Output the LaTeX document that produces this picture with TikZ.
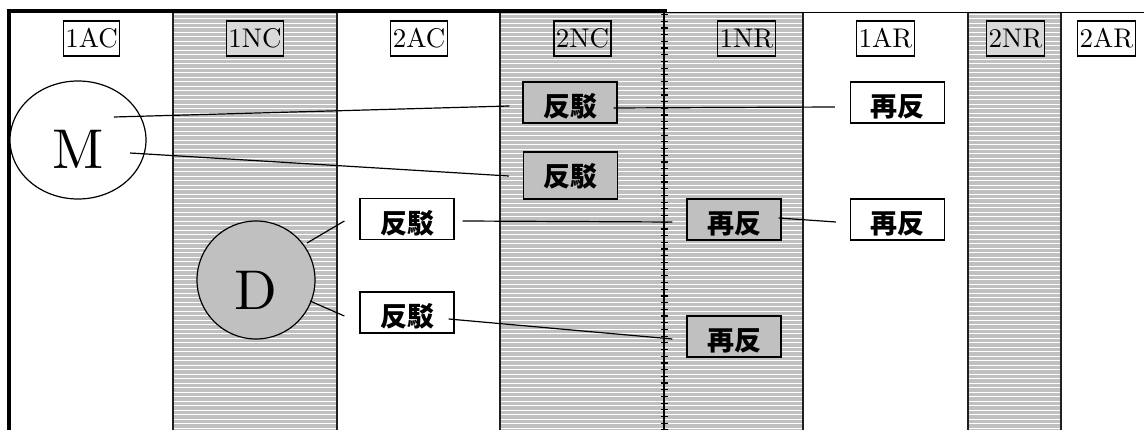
\documentclass[tikz,border=0pt]{standalone}
\usepackage{fontspec}
\newfontfamily\cjk{Noto Sans CJK JP}
\newfontfamily\lmten{lmroman10-regular}[Extension=.otf]
\newcommand{\headfont}{\lmten\fontsize{27}{30}\selectfont}
\usetikzlibrary{shapes.geometric,calc}
\definecolor{stripe}{HTML}{C0C0C0}
\definecolor{lab}{HTML}{D9D9D9}
\definecolor{edgec}{HTML}{202020}
\begin{document}
\begin{tikzpicture}[x=1pt,y=-1pt,
  colhead/.style={draw, line width=1.3pt, inner xsep=2pt, inner ysep=0pt, minimum height=35pt},
  rebox/.style={draw, line width=1.3pt, minimum width=94pt, minimum height=41pt, inner sep=0pt, text height=35pt, text depth=6pt, font={\cjk\bfseries\fontsize{27}{30}\selectfont}},
  graybox/.style={rebox, fill=stripe},
  whitebox/.style={rebox, fill=white},
  edge/.style={draw=edgec, line width=2pt},
  conn/.style={line width=1.2pt},
  bigletter/.style={font={\lmten\fontsize{56}{60}\selectfont}, inner sep=0pt}]
\useasboundingbox (0,0) rectangle (1144,430);
\fill[white] (0,0) rectangle (1144,430);
% shaded columns
\fill[stripe] (173,12) rectangle (337,430) (500,12) rectangle (803,430) (968,12) rectangle (1061,430);
\begin{scope}
  \clip (173,12) rectangle (337,430) (500,12) rectangle (803,430) (968,12) rectangle (1061,430);
  \foreach \yy in {14,18.5,...,430} \draw[white, line width=0.9pt] (173,\yy) -- (1061,\yy);
\end{scope}
% column edges
\foreach \xx in {173,337,500,803,968,1061} \draw[edge] (\xx,12) -- (\xx,430);
% divider with ticks
\draw[line width=2.5pt] (664,10) -- (664,430);
\draw[line width=7pt, dash pattern=on 1.2pt off 5.5pt] (664,14) -- (664,430);
% borders
\draw[line width=4pt] (6.7,11) -- (667,11);
\draw[line width=1.5pt] (667,12.3) -- (1144,12.3);
\draw[line width=4pt] (8.7,9) -- (8.7,430);
% column headings
\node[colhead, fill=white] (h1) at (91.5,38.5) {\headfont 1AC};
\node[colhead, fill=lab] (h2) at (255,38.5) {\headfont 1NC};
\node[colhead, fill=white] (h3) at (419,38.5) {\headfont 2AC};
\node[colhead] (h4) at (582.5,38.5) {\headfont 2NC};
\node[colhead] (h5) at (746.5,38.5) {\headfont 1NR};
\node[colhead, fill=white] (h6) at (885.5,38.5) {\headfont 1AR};
\node[colhead, fill=lab] (h7) at (1015.5,38.5) {\headfont 2NR};
\node[colhead, fill=white] (h8) at (1106.5,38.5) {\headfont 2AR};
% M and D
\node[ellipse, draw, fill=white, line width=1.2pt, minimum width=136pt, minimum height=118pt, inner sep=0pt] (M) at (78,140) {};
\node[bigletter] (Mt) at ([yshift=-9pt]M.center) {M};
\node[circle, draw, fill=stripe, line width=1.2pt, minimum size=118pt, inner sep=0pt] (D) at (256,280) {};
\node[bigletter] (Dt) at ([yshift=-10pt]D.center) {D};
% argument boxes
\node[graybox] (A1) at (570,102.5) {反駁};
\node[graybox, minimum height=47pt, text depth=12pt] (A2) at (570.5,175.5) {反駁};
\node[whitebox] (B1) at (407,219) {反駁};
\node[whitebox] (B2) at (407,312.5) {反駁};
\node[graybox] (C1) at (734,219.5) {再反};
\node[graybox] (C2) at (734,336.5) {再反};
\node[whitebox] (R1) at (897.5,102.5) {再反};
\node[whitebox] (R2) at (897.5,219.5) {再反};
% connectors
\draw[conn] ($(M.center)+(36,-23)$) -- ($(A1.west)+(-13,3.5)$);
\draw[conn] ($(A1.east)+(-4,5.5)$) -- ($(R1.west)+(-15,4.5)$);
\draw[conn] ($(M.center)+(52,13)$) -- ($(A2.west)+(-14,0.5)$);
\draw[conn] ($(D.center)+(51,-37)$) -- ($(B1.west)+(-15,2)$);
\draw[conn] ($(D.center)+(54,21)$) -- ($(B2.west)+(-15,3.5)$);
\draw[conn] ($(B1.east)+(8,2)$) -- ($(C1.west)+(-14,2.5)$);
\draw[conn] ($(B2.east)+(-6,6.5)$) -- ($(C2.west)+(-14,2.5)$);
\draw[conn] ($(C1.east)+(-3,-1.5)$) -- ($(R2.west)+(-14,2.5)$);
\end{tikzpicture}
\end{document}
